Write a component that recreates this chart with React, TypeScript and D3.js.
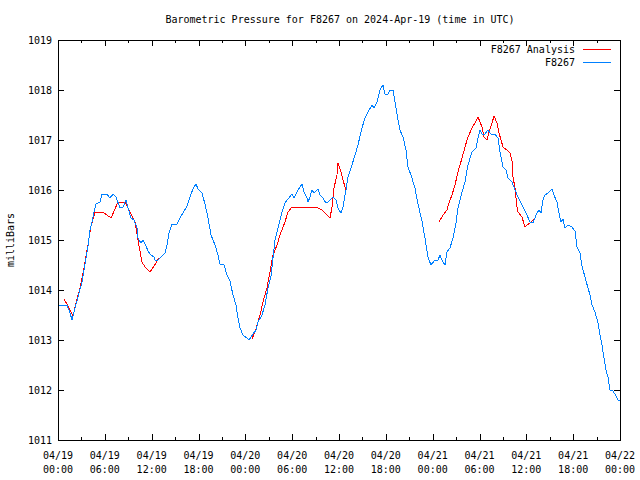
import React from 'react';
import * as d3 from 'd3';

// hours since 2024-04-19 00:00 UTC, pressure in mbar
const stationHours = [
  0, 1.15, 1.54, 1.79, 2.18, 2.56, 3.07, 3.46, 3.84, 4.1, 4.36, 4.61, 4.87, 5.38, 5.64, 6.28, 6.66, 7.05, 7.43, 7.94,
  8.33, 8.71, 8.97, 9.35, 9.74, 10.12, 10.25, 10.63, 10.89, 11.27, 11.53, 11.91, 12.3, 12.43, 12.81, 13.32, 13.71, 13.96, 14.22, 14.6,
  15.24, 15.63, 16.01, 16.53, 16.91, 17.29, 17.68, 17.94, 18.45, 18.83, 19.22, 19.6, 20.11, 20.5, 20.75, 21.27, 21.65, 22.03, 22.42, 22.8,
  23.06, 23.32, 23.7, 24.21, 24.47, 24.72, 24.98, 25.37, 25.62, 26.13, 26.52, 26.9, 27.29, 27.54, 27.8, 28.18, 28.7, 29.08, 29.46, 29.98,
  30.23, 30.75, 31.26, 31.51, 31.9, 32.03, 32.28, 32.54, 32.8, 33.31, 33.56, 33.95, 34.33, 34.59, 34.97, 35.23, 35.61, 35.87, 36.25, 36.51,
  36.89, 37.15, 37.66, 38.05, 38.43, 38.94, 39.33, 39.71, 40.23, 40.48, 40.87, 41.25, 41.63, 41.89, 42.28, 42.53, 42.92, 43.17, 43.56, 43.81,
  44.2, 44.58, 44.84, 45.22, 45.73, 46.12, 46.63, 47.01, 47.4, 47.78, 48.3, 48.68, 48.94, 49.19, 49.58, 49.83, 50.22, 50.6, 50.99, 51.24,
  51.76, 52.14, 52.52, 53.04, 53.55, 53.81, 54.06, 54.32, 54.7, 55.09, 55.47, 55.98, 56.37, 56.62, 57.01, 57.39, 57.65, 58.16, 58.55, 58.93,
  59.44, 59.95, 60.47, 60.85, 61.36, 61.62, 61.88, 62.13, 62.39, 62.77, 63.28, 63.54, 63.93, 64.18, 64.44, 64.69, 64.95, 65.33, 65.85, 66.23,
  66.49, 66.87, 67.13, 67.51, 67.9, 68.16, 68.41, 68.8, 69.18, 69.43, 69.69, 69.95, 70.2, 70.46, 70.72, 71.1, 71.49, 71.74, 72,
];
const stationPressure = [
  1013.7, 1013.7, 1013.54, 1013.4, 1013.64, 1013.86, 1014.16, 1014.52, 1014.88, 1015.2, 1015.36, 1015.56, 1015.72, 1015.76, 1015.92, 1015.92, 1015.84, 1015.92, 1015.86, 1015.64,
  1015.66, 1015.8, 1015.64, 1015.44, 1015.4, 1015.24, 1015.04, 1014.94, 1015.0, 1014.88, 1014.78, 1014.7, 1014.66, 1014.6, 1014.6, 1014.68, 1014.74, 1014.9, 1015.14, 1015.32,
  1015.32, 1015.44, 1015.54, 1015.68, 1015.86, 1016.02, 1016.12, 1016.02, 1015.94, 1015.72, 1015.44, 1015.1, 1014.9, 1014.7, 1014.52, 1014.5, 1014.3, 1014.18, 1013.9, 1013.7,
  1013.44, 1013.24, 1013.1, 1013.04, 1013.0, 1013.06, 1013.12, 1013.2, 1013.36, 1013.5, 1013.7, 1014.04, 1014.28, 1014.64, 1015.0, 1015.24, 1015.56, 1015.74, 1015.82, 1015.92,
  1015.84, 1016.0, 1016.12, 1015.96, 1015.84, 1015.76, 1015.86, 1016.0, 1015.94, 1016.02, 1015.9, 1015.84, 1015.74, 1015.76, 1015.82, 1015.86, 1015.8, 1015.64, 1015.54, 1015.66,
  1016.0, 1016.26, 1016.5, 1016.7, 1016.9, 1017.24, 1017.44, 1017.56, 1017.7, 1017.64, 1017.76, 1018.0, 1018.1, 1017.92, 1017.92, 1018.0, 1018.0, 1017.76, 1017.4, 1017.2,
  1017.06, 1016.8, 1016.46, 1016.3, 1016.04, 1015.72, 1015.38, 1015.04, 1014.66, 1014.5, 1014.6, 1014.6, 1014.7, 1014.6, 1014.5, 1014.76, 1014.84, 1015.04, 1015.34, 1015.64,
  1015.96, 1016.16, 1016.5, 1016.76, 1016.84, 1017.04, 1017.2, 1017.12, 1017.12, 1017.2, 1017.12, 1017.12, 1017.04, 1016.76, 1016.46, 1016.4, 1016.24, 1016.16, 1016.0, 1015.86,
  1015.7, 1015.54, 1015.36, 1015.34, 1015.54, 1015.6, 1015.54, 1015.8, 1015.9, 1015.94, 1016.02, 1015.9, 1015.76, 1015.54, 1015.36, 1015.42, 1015.24, 1015.3, 1015.26, 1015.18,
  1014.86, 1014.74, 1014.48, 1014.26, 1014.04, 1013.9, 1013.7, 1013.56, 1013.34, 1013.1, 1012.9, 1012.64, 1012.4, 1012.26, 1012.0, 1011.98, 1011.88, 1011.8, 1011.8,
];

// analysis series, null = no data
const analysisHours = [
  0.77, 1.28, 1.92, 2.31, 2.82, 3.33, 3.84, 4.23, 4.74, 5.76, 6.79, 7.69, 8.58, 9.22, 9.86, 10.25, 10.76, 11.15, 11.79, 12.3, 12.94,
  18,
  24.85, 25.24, 25.88, 26.26, 26.77, 27.16, 27.54, 28.06, 28.44, 29.08, 29.46, 29.98, 32.03, 33.31, 33.82, 34.2, 34.85, 35.1, 35.36, 35.74, 35.87, 36.25, 36.51, 36.89,
  42,
  48.81, 49.32, 49.83, 50.09, 50.47, 50.86, 51.24, 51.76, 52.14, 52.52, 53.04, 53.42, 53.81, 54.32, 54.57, 54.96, 55.21, 55.6, 55.86, 56.24, 56.5, 57.01, 57.52, 57.9,
  58.16, 58.29, 58.55, 58.8, 58.93, 59.44, 59.83, 60.08, 60.47, 60.98,
];
const analysisPressure: (number | null)[] = [
  1013.82, 1013.68, 1013.48, 1013.74, 1014.04, 1014.44, 1014.9, 1015.28, 1015.56, 1015.56, 1015.44, 1015.76, 1015.76, 1015.56, 1015.36, 1015.0, 1014.56, 1014.46, 1014.36, 1014.48, 1014.64,
  null,
  1013.02, 1013.16, 1013.5, 1013.76, 1014.04, 1014.36, 1014.7, 1014.9, 1015.1, 1015.36, 1015.56, 1015.66, 1015.66, 1015.64, 1015.6, 1015.54, 1015.44, 1015.66, 1016.04, 1016.3, 1016.54, 1016.36, 1016.2, 1016.0,
  null,
  1015.36, 1015.5, 1015.6, 1015.74, 1015.9, 1016.1, 1016.36, 1016.64, 1016.86, 1017.06, 1017.24, 1017.34, 1017.46, 1017.26, 1017.06, 1017.0, 1017.16, 1017.34, 1017.48, 1017.34, 1017.14, 1016.86, 1016.8, 1016.74,
  1016.6, 1016.26, 1016.04, 1015.66, 1015.56, 1015.46, 1015.26, 1015.3, 1015.34, 1015.42,
];

const yTicks = [1011, 1012, 1013, 1014, 1015, 1016, 1017, 1018, 1019];
const xTickDays = ['04/19', '04/19', '04/19', '04/19', '04/20', '04/20', '04/20', '04/20', '04/21', '04/21', '04/21', '04/21', '04/22'];
const xTickTimes = ['00:00', '06:00', '12:00', '18:00', '00:00', '06:00', '12:00', '18:00', '00:00', '06:00', '12:00', '18:00', '00:00'];

const W = 640, H = 480;
const left = 58, right = 620, top = 40, bottom = 440;
const font = '"DejaVu Sans Mono", monospace';
const RED = '#ff0000';
const BLUE = '#0080ff';

type Pt = [number, number | null];

const App: React.FC = () => {
  const x = d3.scaleLinear().domain([0, 72]).range([left, right]);
  const y = d3.scaleLinear().domain([1011, 1019]).range([bottom, top]);

  const line = d3.line<Pt>()
    .defined(d => d[1] !== null)
    .x(d => x(d[0]))
    .y(d => y(d[1] as number));

  const station: Pt[] = stationHours.map((h, i) => [h, stationPressure[i]]);
  const analysis: Pt[] = analysisHours.map((h, i) => [h, analysisPressure[i]]);

  const majorX = d3.range(0, 73, 6);
  const minorX = d3.range(3, 72, 6);

  return (
    <div style={{ position: 'absolute', left: 0, top: 0 }}>
      <svg width={W} height={H} style={{ display: 'block', background: '#fff' }} fontFamily={font} fontSize={10}>
        <text x={340} y={23} textAnchor="middle">Barometric Pressure for F8267 on 2024-Apr-19 (time in UTC)</text>

        <g shapeRendering="crispEdges" stroke="#000" strokeWidth={1}>
          {yTicks.map(v => (
            <g key={v}>
              <line x1={left} x2={left + 6} y1={y(v) + 0.5} y2={y(v) + 0.5} />
              <line x1={right - 6} x2={right} y1={y(v) + 0.5} y2={y(v) + 0.5} />
            </g>
          ))}
          {majorX.map(h => (
            <g key={h}>
              <line x1={Math.round(x(h)) + 0.5} x2={Math.round(x(h)) + 0.5} y1={bottom} y2={bottom - 6} />
              <line x1={Math.round(x(h)) + 0.5} x2={Math.round(x(h)) + 0.5} y1={top} y2={top + 6} />
            </g>
          ))}
          {minorX.map(h => (
            <g key={h}>
              <line x1={Math.round(x(h)) + 0.5} x2={Math.round(x(h)) + 0.5} y1={bottom} y2={bottom - 3} />
              <line x1={Math.round(x(h)) + 0.5} x2={Math.round(x(h)) + 0.5} y1={top} y2={top + 3} />
            </g>
          ))}
        </g>

        {yTicks.map(v => (
          <text key={v} x={left - 6} y={y(v) + 4} textAnchor="end">{v}</text>
        ))}
        {majorX.map((h, i) => (
          <text key={h} x={x(h)} textAnchor="middle">
            <tspan x={x(h)} y={459}>{xTickDays[i]}</tspan>
            <tspan x={x(h)} y={473}>{xTickTimes[i]}</tspan>
          </text>
        ))}
        <text transform={`translate(14,${(top + bottom) / 2}) rotate(-90)`} textAnchor="middle">milliBars</text>

        <path d={line(analysis) ?? ''} fill="none" stroke={RED} strokeWidth={1} shapeRendering="crispEdges" />
        <path d={line(station) ?? ''} fill="none" stroke={BLUE} strokeWidth={1} shapeRendering="crispEdges" />

        <text x={575} y={53} textAnchor="end">F8267 Analysis</text>
        <line x1={583} x2={611} y1={49.5} y2={49.5} stroke={RED} shapeRendering="crispEdges" />
        <text x={575} y={66} textAnchor="end">F8267</text>
        <line x1={583} x2={611} y1={62.5} y2={62.5} stroke={BLUE} shapeRendering="crispEdges" />

        <rect x={left + 0.5} y={top + 0.5} width={right - left} height={bottom - top} fill="none" stroke="#000" shapeRendering="crispEdges" />
      </svg>
    </div>
  );
};

export default App;
